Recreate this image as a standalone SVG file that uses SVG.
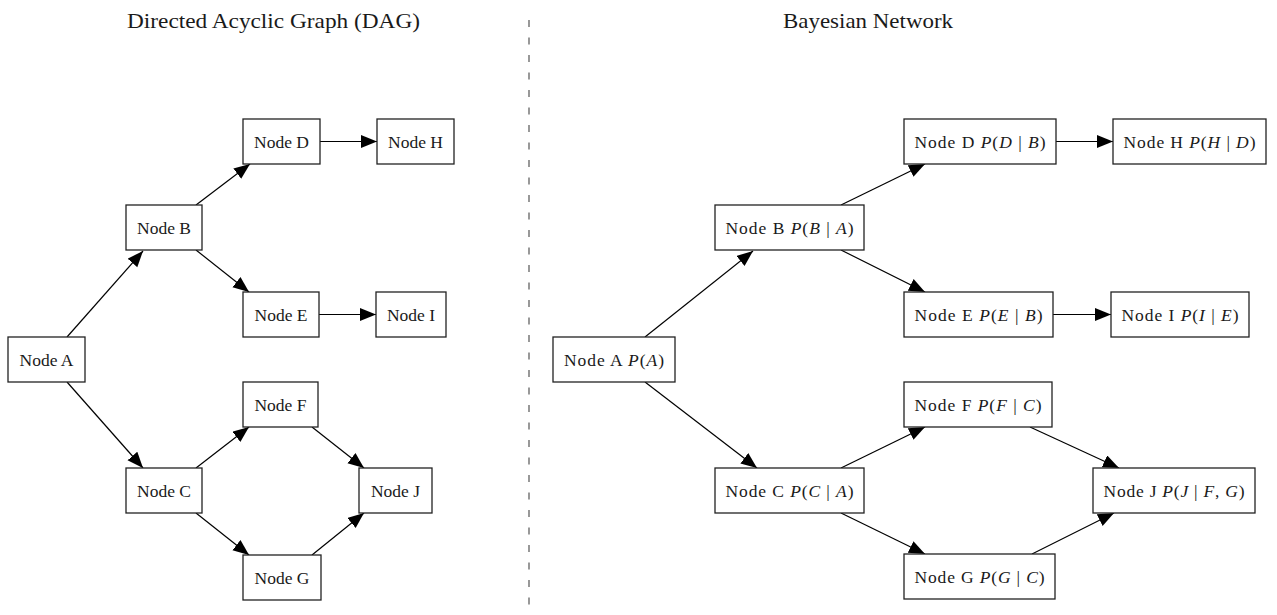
<svg xmlns="http://www.w3.org/2000/svg" width="1277" height="615" viewBox="0 0 1277 615">
  <style>
    .box { fill: #ffffff; stroke: #222222; stroke-width: 1.3; }
    .lbl { font-family: "Liberation Serif", "Times New Roman", serif; font-size: 17.5px; fill: #1a1a1a; text-anchor: middle; }
    .title { font-family: "Liberation Serif", "Times New Roman", serif; font-size: 22px; fill: #1a1a1a; }
    .edge { stroke: #000000; stroke-width: 1.2; fill: none; marker-end: url(#arr); }
    .m { font-style: italic; }
    .divider { stroke: #555555; stroke-width: 1.2; stroke-dasharray: 7 10.5; }
  </style>
  <defs>
    <marker id="arr" markerUnits="userSpaceOnUse" markerWidth="17" markerHeight="14" refX="16" refY="6.5" orient="auto">
      <path d="M0,0 L16,6.5 L0,13 z" fill="#000000"/>
    </marker>
  </defs>
  <rect width="1277" height="615" fill="#ffffff"/>

  <text class="title" x="127" y="28" textLength="293" lengthAdjust="spacingAndGlyphs">Directed Acyclic Graph (DAG)</text>
  <text class="title" x="783" y="28" textLength="170" lengthAdjust="spacingAndGlyphs">Bayesian Network</text>
  <line class="divider" x1="529" y1="20" x2="529" y2="615"/>

  <g id="connectors">
    <line class="edge" x1="67" y1="337" x2="143" y2="251"/>
    <line class="edge" x1="67" y1="382" x2="143" y2="468"/>
    <line class="edge" x1="196" y1="205" x2="250" y2="164"/>
    <line class="edge" x1="196" y1="250" x2="249" y2="292"/>
    <line class="edge" x1="196" y1="468" x2="249" y2="427"/>
    <line class="edge" x1="196" y1="513" x2="249" y2="555"/>
    <line class="edge" x1="320" y1="141.5" x2="377" y2="141.5"/>
    <line class="edge" x1="319" y1="314.5" x2="376" y2="314.5"/>
    <line class="edge" x1="312" y1="427" x2="364" y2="468"/>
    <line class="edge" x1="312" y1="555" x2="364" y2="513"/>

    <line class="edge" x1="645" y1="337" x2="753" y2="251"/>
    <line class="edge" x1="645" y1="382" x2="757" y2="468"/>
    <line class="edge" x1="841" y1="205" x2="925" y2="164"/>
    <line class="edge" x1="841" y1="250" x2="925" y2="292"/>
    <line class="edge" x1="841" y1="468" x2="925" y2="427"/>
    <line class="edge" x1="841" y1="513" x2="925" y2="554"/>
    <line class="edge" x1="1056" y1="141.5" x2="1113" y2="141.5"/>
    <line class="edge" x1="1053" y1="314.5" x2="1111" y2="314.5"/>
    <line class="edge" x1="1030" y1="427" x2="1119" y2="468"/>
    <line class="edge" x1="1032" y1="554" x2="1114" y2="513"/>
  </g>

  <!-- Left DAG -->
  <g id="dag-A"><rect class="box" x="8" y="337" width="77" height="45"/><text class="lbl" x="46.5" y="365.5">Node A</text></g>
  <g id="dag-B"><rect class="box" x="126" y="205" width="76" height="45"/><text class="lbl" x="164" y="233.5">Node B</text></g>
  <g id="dag-C"><rect class="box" x="126" y="468" width="76" height="45"/><text class="lbl" x="164" y="496.5">Node C</text></g>
  <g id="dag-D"><rect class="box" x="243" y="119" width="77" height="45"/><text class="lbl" x="281.5" y="147.5">Node D</text></g>
  <g id="dag-E"><rect class="box" x="243" y="292" width="76" height="45"/><text class="lbl" x="281" y="320.5">Node E</text></g>
  <g id="dag-F"><rect class="box" x="243" y="382" width="75" height="45"/><text class="lbl" x="280.5" y="410.5">Node F</text></g>
  <g id="dag-G"><rect class="box" x="243" y="555" width="78" height="45"/><text class="lbl" x="282" y="583.5">Node G</text></g>
  <g id="dag-H"><rect class="box" x="377" y="119" width="77" height="45"/><text class="lbl" x="415.5" y="147.5">Node H</text></g>
  <g id="dag-I"><rect class="box" x="376" y="292" width="70" height="45"/><text class="lbl" x="411" y="320.5">Node I</text></g>
  <g id="dag-J"><rect class="box" x="359" y="468" width="73" height="45"/><text class="lbl" x="395.5" y="496.5">Node J</text></g>

  <!-- Right Bayesian network -->
  <g id="bn-A"><rect class="box" x="553" y="337" width="122" height="45"/><text class="lbl" x="614" y="365.5" textLength="100" lengthAdjust="spacing">Node A <tspan class="m">P</tspan>(<tspan class="m">A</tspan>)</text></g>
  <g id="bn-B"><rect class="box" x="715" y="205" width="149" height="45"/><text class="lbl" x="789.5" y="233.5" textLength="128" lengthAdjust="spacing">Node B <tspan class="m">P</tspan>(<tspan class="m">B</tspan> | <tspan class="m">A</tspan>)</text></g>
  <g id="bn-C"><rect class="box" x="715" y="468" width="149" height="45"/><text class="lbl" x="789.5" y="496.5" textLength="128" lengthAdjust="spacing">Node C <tspan class="m">P</tspan>(<tspan class="m">C</tspan> | <tspan class="m">A</tspan>)</text></g>
  <g id="bn-D"><rect class="box" x="904" y="119" width="152" height="45"/><text class="lbl" x="980" y="147.5" textLength="131" lengthAdjust="spacing">Node D <tspan class="m">P</tspan>(<tspan class="m">D</tspan> | <tspan class="m">B</tspan>)</text></g>
  <g id="bn-E"><rect class="box" x="904" y="292" width="149" height="45"/><text class="lbl" x="978.5" y="320.5" textLength="128" lengthAdjust="spacing">Node E <tspan class="m">P</tspan>(<tspan class="m">E</tspan> | <tspan class="m">B</tspan>)</text></g>
  <g id="bn-F"><rect class="box" x="904" y="382" width="148" height="45"/><text class="lbl" x="978" y="410.5" textLength="127" lengthAdjust="spacing">Node F <tspan class="m">P</tspan>(<tspan class="m">F</tspan> | <tspan class="m">C</tspan>)</text></g>
  <g id="bn-G"><rect class="box" x="904" y="554" width="151" height="45"/><text class="lbl" x="979.5" y="582.5" textLength="130" lengthAdjust="spacing">Node G <tspan class="m">P</tspan>(<tspan class="m">G</tspan> | <tspan class="m">C</tspan>)</text></g>
  <g id="bn-H"><rect class="box" x="1113" y="119" width="153" height="45"/><text class="lbl" x="1189.5" y="147.5" textLength="132" lengthAdjust="spacing">Node H <tspan class="m">P</tspan>(<tspan class="m">H</tspan> | <tspan class="m">D</tspan>)</text></g>
  <g id="bn-I"><rect class="box" x="1111" y="292" width="138" height="45"/><text class="lbl" x="1180" y="320.5" textLength="117" lengthAdjust="spacing">Node I <tspan class="m">P</tspan>(<tspan class="m">I</tspan> | <tspan class="m">E</tspan>)</text></g>
  <g id="bn-J"><rect class="box" x="1093" y="468" width="162" height="45"/><text class="lbl" x="1174" y="496.5" textLength="141" lengthAdjust="spacing">Node J <tspan class="m">P</tspan>(<tspan class="m">J</tspan> | <tspan class="m">F</tspan>, <tspan class="m">G</tspan>)</text></g>
</svg>
